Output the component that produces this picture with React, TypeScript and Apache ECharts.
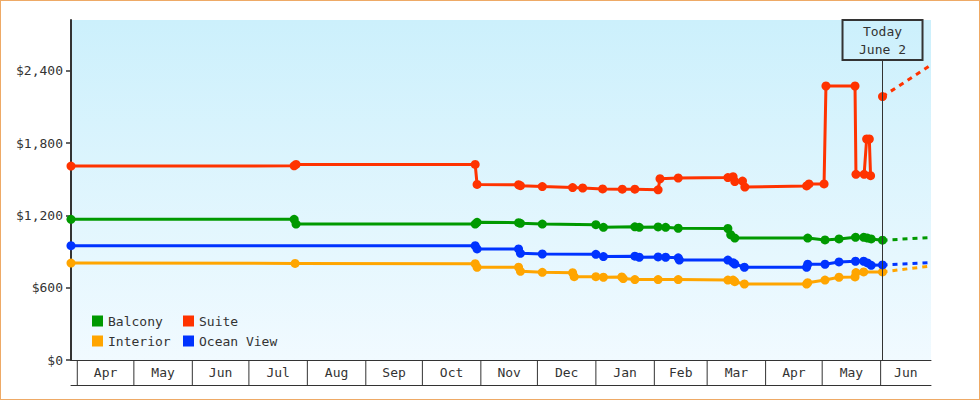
import { useEffect, useRef } from "react";
import * as echarts from "echarts";

const FONT = '"DejaVu Sans Mono", monospace';
const INK = "#333";

const AXIS_MIN = "2022-03-28T16:00";
const AXIS_MAX = "2023-06-27T17:00";
const TODAY = "2023-06-02";
const TODAY_LABEL = "Today\nJune 2";

const monthLabels = ["Apr", "May", "Jun", "Jul", "Aug", "Sep", "Oct", "Nov", "Dec", "Jan", "Feb", "Mar", "Apr", "May", "Jun"];
const monthStarts = [
  "2022-04-01", "2022-05-01", "2022-06-01", "2022-07-01", "2022-08-01", "2022-09-01", "2022-10-01",
  "2022-11-01", "2022-12-01", "2023-01-01", "2023-02-01", "2023-03-01", "2023-04-01", "2023-05-01", "2023-06-01",
];
const yTicks = [0, 600, 1200, 1800, 2400];
const Y_MAX = 2823;

const suite: [string, number][] = [
  ["2022-03-28T16:00", 1610], ["2022-07-25", 1612], ["2022-07-26", 1624], ["2022-10-29", 1624],
  ["2022-10-30", 1458], ["2022-11-21", 1455], ["2022-11-22", 1447], ["2022-12-03T14:00", 1440],
  ["2022-12-19T16:00", 1432], ["2022-12-25", 1428], ["2023-01-04T14:00", 1420], ["2023-01-15", 1418],
  ["2023-01-21T16:00", 1418], ["2023-02-03", 1413], ["2023-02-04", 1505], ["2023-02-13T16:00", 1511],
  ["2023-03-12", 1515], ["2023-03-14T18:00", 1522], ["2023-03-15T16:00", 1482], ["2023-03-19T18:00", 1486],
  ["2023-03-21", 1436], ["2023-04-22T18:00", 1445], ["2023-04-24", 1462], ["2023-05-02", 1462],
  ["2023-05-03", 2275], ["2023-05-18T10:00", 2275], ["2023-05-18T22:00", 1542], ["2023-05-23T06:00", 1542],
  ["2023-05-24T14:00", 1835], ["2023-05-26", 1835], ["2023-05-26T16:00", 1530],
];
const suiteForecast: [string, number][] = [["2023-06-02", 2187], ["2023-06-27T17:00", 2450]];

const balcony: [string, number][] = [
  ["2022-03-28T16:00", 1168], ["2022-07-25", 1168], ["2022-07-26", 1129], ["2022-10-29", 1129],
  ["2022-10-30", 1143], ["2022-11-21", 1140], ["2022-11-22", 1135], ["2022-12-03T14:00", 1129],
  ["2023-01-01", 1124], ["2023-01-05", 1102], ["2023-01-21T16:00", 1106], ["2023-01-24", 1102],
  ["2023-02-03", 1105], ["2023-02-07", 1102], ["2023-02-13T16:00", 1094], ["2023-03-12", 1092],
  ["2023-03-13T12:00", 1040], ["2023-03-15T16:00", 1012], ["2023-04-23T08:00", 1012], ["2023-05-02T12:00", 997],
  ["2023-05-09T22:00", 1005], ["2023-05-18T16:00", 1019], ["2023-05-23", 1019], ["2023-05-25", 1012],
  ["2023-05-27", 1005], ["2023-06-02", 995],
];
const balconyForecast: [string, number][] = [["2023-06-02", 995], ["2023-06-27T17:00", 1016]];

const oceanView: [string, number][] = [
  ["2022-03-28T16:00", 949], ["2022-10-29", 949], ["2022-10-30", 922], ["2022-11-21", 922],
  ["2022-11-22", 886], ["2022-12-03T14:00", 880], ["2023-01-01", 877], ["2023-01-05", 859],
  ["2023-01-21T16:00", 862], ["2023-01-24", 853], ["2023-02-03", 856], ["2023-02-07", 853],
  ["2023-02-13T16:00", 848], ["2023-02-14T06:00", 830], ["2023-03-12", 830], ["2023-03-14T18:00", 808],
  ["2023-03-15T16:00", 797], ["2023-03-20T18:00", 770], ["2023-04-22T18:00", 770], ["2023-04-23T08:00", 795],
  ["2023-05-02T12:00", 795], ["2023-05-09T22:00", 814], ["2023-05-18T16:00", 820], ["2023-05-23", 820],
  ["2023-05-25", 806], ["2023-05-27", 786], ["2023-06-02", 789],
];
const oceanViewForecast: [string, number][] = [["2023-06-02", 789], ["2023-06-27T17:00", 808]];

const interior: [string, number][] = [
  ["2022-03-28T16:00", 805], ["2022-07-25T12:00", 802], ["2022-10-29", 800], ["2022-10-30", 770],
  ["2022-11-21", 770], ["2022-11-22", 736], ["2022-12-03T14:00", 728], ["2022-12-19T16:00", 725],
  ["2022-12-20T12:00", 692], ["2023-01-01", 692], ["2023-01-05", 687], ["2023-01-14T18:00", 690],
  ["2023-01-15T12:00", 676], ["2023-01-21T16:00", 668], ["2023-02-03", 668], ["2023-02-13T16:00", 668],
  ["2023-03-12", 664], ["2023-03-14T18:00", 664], ["2023-03-15T16:00", 650], ["2023-03-20T18:00", 631],
  ["2023-04-22T18:00", 631], ["2023-04-23T08:00", 642], ["2023-05-02T12:00", 664], ["2023-05-09T22:00", 687],
  ["2023-05-18T10:00", 690], ["2023-05-18T22:00", 726], ["2023-05-23", 731], ["2023-06-02", 731],
];
const interiorForecast: [string, number][] = [["2023-06-02", 731], ["2023-06-27T17:00", 781]];

const COLORS: Record<string, string> = {
  Balcony: "#009900",
  Suite: "#ff3300",
  Interior: "#ffa500",
  "Ocean View": "#0033ff",
};

function solid(name: string, data: [string, number][]) {
  return {
    type: "line",
    name,
    data,
    xAxisIndex: 0,
    yAxisIndex: 0,
    color: COLORS[name],
    symbol: "circle",
    symbolSize: 9,
    showSymbol: true,
    clip: false,
    lineStyle: { width: 3, color: COLORS[name] },
    itemStyle: { color: COLORS[name] },
    emphasis: { disabled: true },
    z: 3,
  };
}

function forecast(name: string, data: [string, number][], withPoint: boolean, extra: any = {}) {
  return {
    type: "line",
    name,
    data: data.map((d, i) => (i === 0 && withPoint ? d : { value: d, symbol: "none" })),
    xAxisIndex: 0,
    yAxisIndex: 0,
    color: COLORS[name],
    symbol: "circle",
    symbolSize: 9,
    showSymbol: true,
    clip: false,
    lineStyle: { width: 3, color: COLORS[name], type: [5, 5] },
    itemStyle: { color: COLORS[name] },
    emphasis: { disabled: true },
    z: 3,
    ...extra,
  };
}

export default function App() {
  const ref = useRef<HTMLDivElement>(null);

  useEffect(() => {
    if (!ref.current) return;
    const chart = echarts.init(ref.current, undefined, { renderer: "svg" });

    const axisMaxNum = echarts.time.parse(AXIS_MAX).getTime();
    const bands = monthStarts.map((s, i) => [
      echarts.time.parse(s).getTime(),
      i + 1 < monthStarts.length ? echarts.time.parse(monthStarts[i + 1]).getTime() : axisMaxNum,
      0.5,
    ]);

    const legendText = { fontFamily: FONT, fontSize: 13, color: INK, lineHeight: 16 };

    chart.setOption({
      animation: false,
      backgroundColor: "#ffffff",
      textStyle: { fontFamily: FONT },
      grid: [
        {
          left: 71,
          right: 49,
          top: 20,
          bottom: 40,
          show: true,
          borderWidth: 0,
          backgroundColor: {
            type: "linear",
            x: 0,
            y: 0,
            x2: 0,
            y2: 1,
            colorStops: [
              { offset: 0, color: "#ccf0fc" },
              { offset: 1, color: "#f1faff" },
            ],
          },
        },
        { left: 71, right: 49, top: 360, height: 25, show: false },
      ],
      legend: [
        {
          data: ["Balcony", "Interior"],
          orient: "vertical",
          left: 92,
          top: 313,
          padding: 0,
          itemWidth: 11,
          itemHeight: 11,
          itemGap: 4,
          icon: "rect",
          selectedMode: false,
          textStyle: legendText,
        },
        {
          data: ["Suite", "Ocean View"],
          orient: "vertical",
          left: 183,
          top: 313,
          padding: 0,
          itemWidth: 11,
          itemHeight: 11,
          itemGap: 4,
          icon: "rect",
          selectedMode: false,
          textStyle: legendText,
        },
      ],
      xAxis: [
        {
          type: "time",
          gridIndex: 0,
          min: AXIS_MIN,
          max: AXIS_MAX,
          axisLine: { show: true, lineStyle: { color: INK, width: 1 } },
          axisTick: { show: false },
          axisLabel: { show: false },
          splitLine: { show: false },
        },
        {
          type: "time",
          gridIndex: 1,
          min: AXIS_MIN,
          max: AXIS_MAX,
          position: "bottom",
          axisLine: { show: true, lineStyle: { color: INK, width: 1 } },
          axisTick: { show: false },
          axisLabel: { show: false },
          splitLine: { show: false },
        },
      ],
      yAxis: [
        {
          type: "value",
          gridIndex: 0,
          min: 0,
          max: Y_MAX,
          interval: 600,
          axisLine: { show: true, lineStyle: { color: INK, width: 2 } },
          axisTick: { show: true, length: 5, lineStyle: { color: INK, width: 1.5 }, customValues: yTicks },
          axisLabel: {
            margin: 8,
            color: INK,
            fontFamily: FONT,
            fontSize: 13,
            customValues: yTicks,
            formatter: (v: number) => (yTicks.includes(v) ? "$" + v.toLocaleString("en-US") : ""),
          },
          splitLine: { show: false },
        },
        { type: "value", gridIndex: 1, min: 0, max: 1, show: false },
      ],
      series: [
        solid("Interior", interior),
        forecast("Interior", interiorForecast, false),
        solid("Ocean View", oceanView),
        forecast("Ocean View", oceanViewForecast, false),
        solid("Balcony", balcony),
        forecast("Balcony", balconyForecast, false),
        solid("Suite", suite),
        forecast("Suite", suiteForecast, true, {
          markLine: {
            silent: true,
            symbol: "none",
            animation: false,
            lineStyle: { color: INK, width: 1, type: "solid" },
            label: {
              show: true,
              position: "end",
              distance: 0,
              formatter: TODAY_LABEL,
              color: INK,
              fontFamily: FONT,
              fontSize: 13,
              lineHeight: 18,
              align: "center",
              width: 80,
              padding: [3, 0, 1, 0],
              borderColor: INK,
              borderWidth: 1,
              backgroundColor: "transparent",
            },
            data: [[{ coord: [TODAY, 0] }, { coord: [TODAY, 2491] }]],
          },
        }),
        {
          type: "custom",
          xAxisIndex: 1,
          yAxisIndex: 1,
          clip: false,
          silent: true,
          data: bands,
          encode: { x: [0, 1], y: 2 },
          renderItem: (params: any, api: any) => {
            const x0 = api.coord([api.value(0), 0])[0];
            const x1 = api.coord([api.value(1), 0])[0];
            const cs = params.coordSys;
            return {
              type: "group",
              children: [
                {
                  type: "line",
                  shape: { x1: x0, y1: cs.y, x2: x0, y2: cs.y + cs.height },
                  style: { stroke: INK, lineWidth: 1 },
                },
                {
                  type: "text",
                  style: {
                    text: monthLabels[params.dataIndex],
                    x: (x0 + x1) / 2,
                    y: cs.y + cs.height / 2,
                    align: "center",
                    verticalAlign: "middle",
                    fill: INK,
                    fontFamily: FONT,
                    fontSize: 13,
                  },
                },
              ],
            };
          },
        },
      ],
    });

    return () => chart.dispose();
  }, []);

  return (
    <div style={{ position: "absolute", left: 0, top: 0, width: 980, height: 400 }}>
      <div ref={ref} style={{ position: "absolute", left: 0, top: 0, width: 980, height: 400 }} />
      <div
        style={{
          position: "absolute",
          left: 0,
          top: 0,
          width: 980,
          height: 400,
          boxSizing: "border-box",
          border: "1px solid #eeaa66",
          pointerEvents: "none",
        }}
      />
    </div>
  );
}
